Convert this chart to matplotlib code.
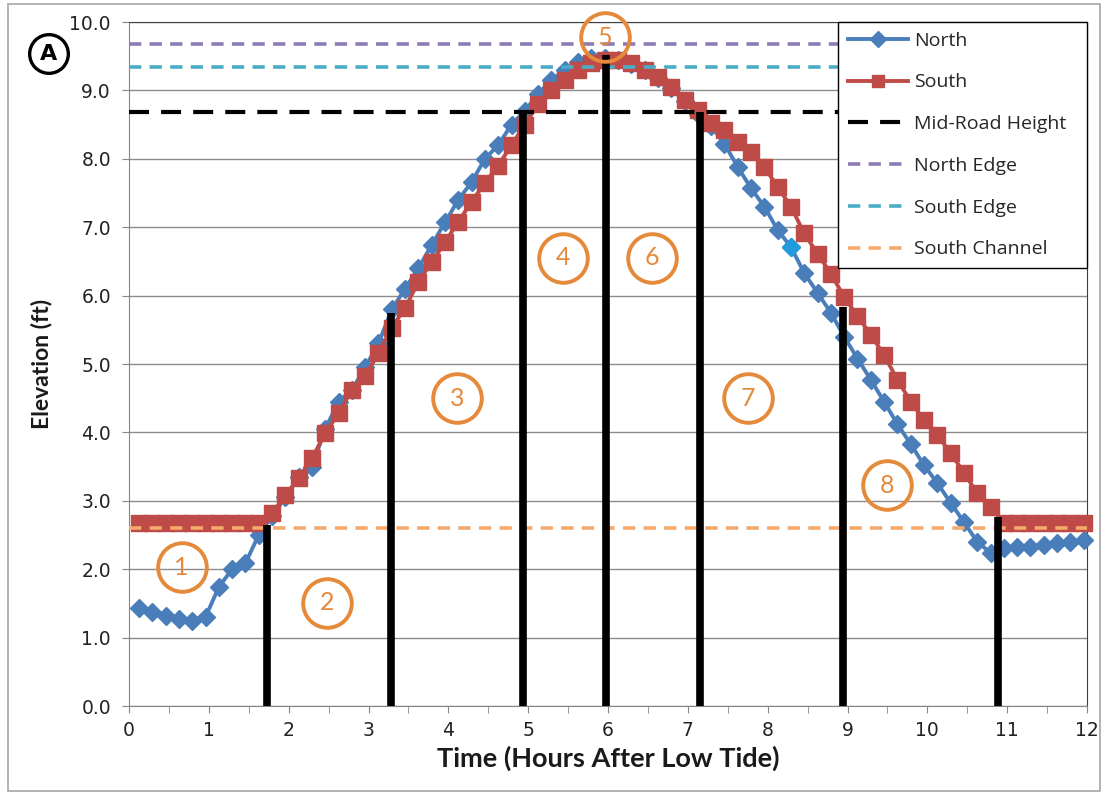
import matplotlib
matplotlib.use("Agg")
import matplotlib.pyplot as plt
from matplotlib.patches import Rectangle

# ---------------- data ----------------
time_h = [round(0.125 + k / 6, 4) for k in range(72)]   # 10-minute samples

north = [1.43, 1.37, 1.31, 1.27, 1.25, 1.30, 1.74, 2.00, 2.09, 2.50,
         2.78, 3.05, 3.35, 3.50, 4.05, 4.45, 4.62, 4.95, 5.30, 5.80,
         6.10, 6.40, 6.74, 7.07, 7.40, 7.66, 8.00, 8.20, 8.50, 8.70,
         8.95, 9.15, 9.30, 9.42, 9.48, 9.48, 9.45, 9.38, 9.30, 9.18,
         9.03, 8.85, 8.65, 8.48, 8.22, 7.88, 7.57, 7.30, 6.96, 6.71,
         6.33, 6.04, 5.75, 5.40, 5.08, 4.77, 4.45, 4.12, 3.83, 3.52,
         3.26, 2.97, 2.69, 2.40, 2.24, 2.31, 2.33, 2.33, 2.36, 2.38,
         2.40, 2.43]

south = [2.68, 2.68, 2.68, 2.68, 2.68, 2.68, 2.68, 2.68, 2.68, 2.68,
         2.82, 3.08, 3.33, 3.62, 3.99, 4.28, 4.62, 4.82, 5.16, 5.53,
         5.82, 6.20, 6.49, 6.78, 7.08, 7.37, 7.65, 7.90, 8.20, 8.50,
         8.80, 9.00, 9.15, 9.30, 9.40, 9.45, 9.45, 9.40, 9.30, 9.20,
         9.05, 8.86, 8.71, 8.52, 8.42, 8.25, 8.10, 7.88, 7.59, 7.30,
         6.91, 6.61, 6.32, 5.98, 5.70, 5.43, 5.13, 4.77, 4.45, 4.18,
         3.96, 3.70, 3.41, 3.11, 2.91, 2.68, 2.68, 2.68, 2.68, 2.68,
         2.68, 2.68]

ref_names = ["Mid-Road Height", "North Edge", "South Edge", "South Channel"]
ref_levels = [8.68, 9.68, 9.34, 2.60]

boundary_t = [1.73, 3.28, 4.94, 5.97, 7.15, 8.94, 10.88]
boundary_top = [2.65, 5.75, 8.68, 9.52, 8.68, 5.83, 2.76]

phase_labels = ["1", "2", "3", "4", "5", "6", "7", "8"]

x_ticks = list(range(0, 13))
y_ticks = [0, 1, 2, 3, 4, 5, 6, 7, 8, 9, 10]

# ---------------- layout / style ----------------
phase_pos = [(0.66, 2.03), (2.48, 1.51), (4.11, 4.50), (5.44, 6.55),
             (5.96, 9.78), (6.55, 6.55), (7.75, 4.50), (9.50, 3.23)]

C_NORTH = "#4A7EBB"
C_SOUTH = "#BE4B48"
ref_styles = [
    dict(color="black", lw=3.0, dashes=(4.8, 2.9)),
    dict(color="#8C7BB5", lw=2.6, dashes=(3.4, 2.3)),
    dict(color="#4BACC6", lw=2.6, dashes=(3.4, 2.3)),
    dict(color="#F5A96A", lw=2.6, dashes=(3.4, 2.3)),
]
C_PHASE = "#E5893A"

W, H = 1105, 797
fig = plt.figure(figsize=(W / 100, H / 100), dpi=100)
L, R, T, B = 129, 1087, 22, 706
ax = fig.add_axes([L / W, 1 - B / H, (R - L) / W, (B - T) / H])

# outer chart border
fig.patches.append(Rectangle((8 / W, 1 - 791 / H), (1100 - 8) / W, (791 - 4) / H,
                             transform=fig.transFigure, fill=False,
                             edgecolor="#A6A6A6", lw=1.2))

ax.set_xlim(0, 12)
ax.set_ylim(0, 10)

# grid / ticks
ax.set_yticks(y_ticks)
ax.set_yticklabels([f"{v:.1f}" for v in y_ticks])
ax.set_xticks(x_ticks)
ax.set_xticklabels([str(v) for v in x_ticks])
ax.set_xticks([v + 0.5 for v in x_ticks[:-1]], minor=True)
ax.grid(axis="y", color="#8C8C8C", lw=1.0, zorder=0)
ax.set_axisbelow(True)
ax.tick_params(axis="both", which="both", direction="out", length=5,
               color="#868686", labelsize=13.5, labelcolor="#222222")
ax.tick_params(axis="x", pad=6)
ax.tick_params(axis="y", pad=8)
for s in ["left", "bottom"]:
    ax.spines[s].set_color("#868686")
for s in ["top", "right"]:
    ax.spines[s].set_color("#404040")

# series
hN, = ax.plot(time_h, north, color=C_NORTH, lw=2.8, marker="D", ms=9,
              mfc=C_NORTH, mec=C_NORTH, zorder=3, clip_on=False, label="North")
hS, = ax.plot(time_h, south, color=C_SOUTH, lw=2.8, marker="s", ms=11,
              mfc=C_SOUTH, mec=C_SOUTH, zorder=4, clip_on=False, label="South")
# highlighted (selected) point
ax.plot([time_h[49]], [north[49]], marker="D", ms=9, color="#1F9BDE",
        zorder=3.5, clip_on=False)

# reference levels
ref_handles = []
for name, lvl, st in zip(ref_names, ref_levels, ref_styles):
    h, = ax.plot([0, 12], [lvl, lvl], color=st["color"], lw=st["lw"],
                 dashes=st["dashes"], zorder=5, label=name)
    ref_handles.append(h)

# boundary verticals
ax.vlines(boundary_t, 0, boundary_top, color="black", lw=5.5, zorder=6,
          capstyle="butt")

# phase circles
for lab, (px, py) in zip(phase_labels, phase_pos):
    ax.plot([px], [py], marker="o", ms=35, mfc="none", mec=C_PHASE, mew=2.8,
            zorder=7, clip_on=False)
    ax.text(px, py, lab, color=C_PHASE, fontsize=18, ha="center", va="center",
            family="Lato", zorder=8)

# labels
ax.set_xlabel("Time (Hours After Low Tide)", fontsize=19.5, fontweight="bold",
              family="Lato", labelpad=4, color="#1a1a1a")
ax.set_ylabel("Elevation (ft)", fontsize=16.5, fontweight="bold",
              family="Lato", labelpad=12, color="#1a1a1a")

# legend
leg = ax.legend(handles=[hN, hS] + ref_handles,
                loc="upper left", bbox_to_anchor=((838 - L) / (R - L), (B - 274) / (B - T),
                                                  (R - 838) / (R - L), (274 - T) / (B - T)),
                mode="expand", borderaxespad=0, frameon=True, fancybox=False,
                framealpha=1, edgecolor="black", prop=dict(family="Open Sans", size=14),
                handlelength=3.1, handletextpad=0.3, labelspacing=1.22,
                borderpad=0.5)
leg.get_frame().set_linewidth(1.0)
leg.set_zorder(10)
for t in leg.get_texts():
    t.set_color("#262626")
for h in leg.legend_handles[:2]:
    h.set_markersize(8)

# panel letter
fig.text(49 / W, 1 - 54 / H, "A", fontsize=16, fontweight="bold", ha="center",
         va="center", family="DejaVu Sans",
         bbox=dict(boxstyle="circle,pad=0.42", fc="white", ec="black", lw=2.4))

fig.savefig("out.png", dpi=100)
